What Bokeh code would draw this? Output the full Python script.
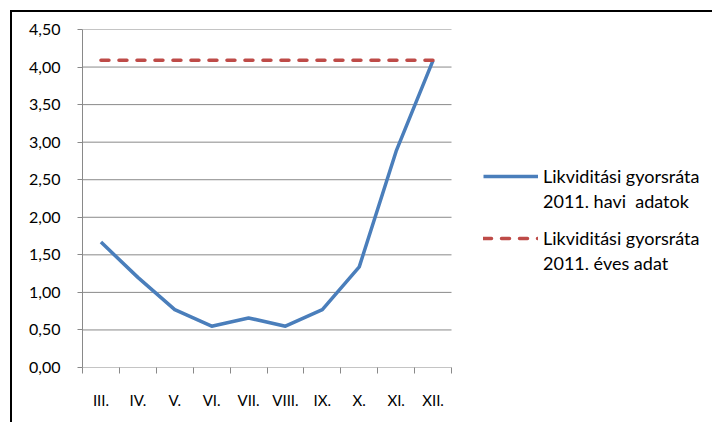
from bokeh.plotting import figure
from bokeh.layouts import column
from bokeh.models import Range1d, FixedTicker, Legend, LegendItem
from bokeh.embed import file_html
from bokeh.resources import INLINE

months = ["III.", "IV.", "V.", "VI.", "VII.", "VIII.", "IX.", "X.", "XI.", "XII."]
havi = [1.67, 1.20, 0.77, 0.55, 0.66, 0.55, 0.77, 1.34, 2.88, 4.09]
eves = [4.09] * 10
y_ticks = [0.0, 0.5, 1.0, 1.5, 2.0, 2.5, 3.0, 3.5, 4.0, 4.5]
y_tick_labels = ["0,00", "0,50", "1,00", "1,50", "2,00", "2,50", "3,00", "3,50", "4,00", "4,50"]
label_havi = ["Likviditási gyorsráta", "2011. havi  adatok"]
label_eves = ["Likviditási gyorsráta", "2011. éves adat"]

FONT = "Lato"
GRAY = "#898989"

n = len(months)
xs = [i + 0.5 for i in range(n)]

W, H = 700, 410
LEFT, TOP, BOTTOM = 70, 17, 55
PLOT_W = 369  # pixel width of the category area
x_end = n * (W - LEFT) / PLOT_W

p = figure(width=W, height=H, output_backend="svg", toolbar_location=None,
           x_range=Range1d(0, x_end), y_range=Range1d(0, 4.5),
           min_border_left=LEFT, min_border_right=0, min_border_top=TOP, min_border_bottom=BOTTOM)
p.outline_line_color = None
p.background_fill_color = "white"
p.border_fill_color = "white"

# horizontal grid lines limited to the category area
p.segment(x0=[0] * len(y_ticks), x1=[n] * len(y_ticks), y0=y_ticks, y1=y_ticks,
          line_color=GRAY, line_width=1)

r1 = p.line(xs, havi, line_color="#4A7EBB", line_width=3.5, line_join="round")
r2 = p.line(xs, eves, line_color="#BE4B48", line_width=3.5, line_dash="8 10", line_cap="round")
blank = p.line(x=[], y=[], line_alpha=0)

# x axis
p.xaxis.ticker = FixedTicker(ticks=xs, minor_ticks=list(range(n + 1)))
p.xaxis.major_label_overrides = {x: m for x, m in zip(xs, months)}
p.xaxis.major_tick_out = 0
p.xaxis.major_tick_in = 0
p.xaxis.minor_tick_out = 6
p.xaxis.minor_tick_in = 0
p.xaxis.minor_tick_line_color = GRAY
p.xaxis.axis_line_color = None
p.xaxis.major_label_standoff = 17
p.xaxis.major_label_text_font = FONT
p.xaxis.major_label_text_font_size = "15px"
p.xaxis.major_label_text_color = "black"

# y axis
p.yaxis.ticker = FixedTicker(ticks=y_ticks, minor_ticks=[])
p.yaxis.major_label_overrides = {t: l for t, l in zip(y_ticks, y_tick_labels)}
p.yaxis.major_tick_out = 5
p.yaxis.major_tick_in = 0
p.yaxis.major_tick_line_color = GRAY
p.yaxis.axis_line_color = GRAY
p.yaxis.major_label_standoff = 17
p.yaxis.major_label_text_font = FONT
p.yaxis.major_label_text_font_size = "16px"
p.yaxis.major_label_text_color = "black"

p.xgrid.grid_line_color = None
p.ygrid.grid_line_color = None


def make_legend(renderer, lines, loc):
    lg = Legend(items=[LegendItem(label=lines[0], renderers=[renderer]),
                       LegendItem(label=lines[1], renderers=[blank])],
                location=loc, orientation="vertical")
    lg.border_line_color = None
    lg.background_fill_alpha = 0
    lg.margin = 0
    lg.padding = 0
    lg.spacing = 3
    lg.glyph_width = 55
    lg.glyph_height = 18
    lg.label_height = 18
    lg.label_standoff = 5
    lg.label_text_font = FONT
    lg.label_text_font_size = "18px"
    lg.label_text_line_height = 1.0
    lg.label_text_color = "black"
    return lg


p.add_layout(make_legend(r1, label_havi, (401, 155)), "center")
p.add_layout(make_legend(r2, label_eves, (401, 93)), "center")

layout = column(p, styles={"border-top": "2px solid black", "border-left": "2px solid black",
                           "margin-left": "10px", "margin-top": "10px"})

open("out.html", "w").write(file_html(layout, INLINE))
